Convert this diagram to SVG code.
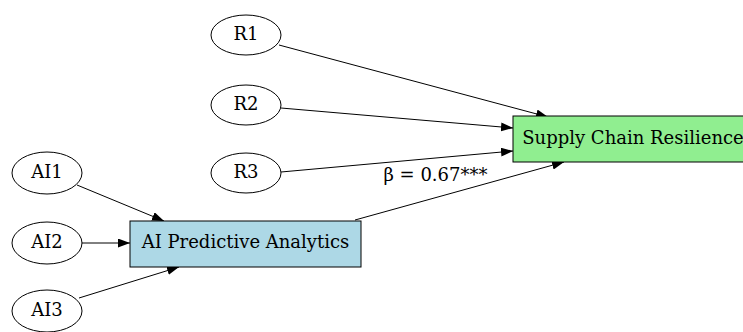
<svg xmlns="http://www.w3.org/2000/svg" width="743" height="332" viewBox="0 0 743 332">
<style>
.n ellipse{fill:#fff;stroke:#000;stroke-width:1}
.t{font-family:"DejaVu Serif",serif;font-size:18px;fill:#000;text-anchor:middle}
.e line{stroke:#000;stroke-width:1;marker-end:url(#ah)}
</style>
<defs>
<marker id="ah" markerWidth="12" markerHeight="9" refX="12" refY="4.5" orient="auto" markerUnits="userSpaceOnUse">
<path d="M0,0 L12,4.5 L0,9 z" fill="#000"/>
</marker>
</defs>
<rect width="743" height="332" fill="#fff"/>
<g id="edges" class="e">
<line x1="279" y1="45" x2="548" y2="117"/>
<line x1="281" y1="108" x2="513" y2="128"/>
<line x1="281" y1="172" x2="513" y2="151"/>
<line x1="355" y1="220" x2="564" y2="162"/>
<line x1="77" y1="185" x2="164" y2="221"/>
<line x1="81" y1="243" x2="130" y2="243"/>
<line x1="79" y1="298" x2="179" y2="267"/>
<text class="t" x="435.5" y="181">β = 0.67***</text>
</g>
<g id="R1" class="n"><ellipse cx="246" cy="35" rx="35" ry="20"/><text class="t" x="246" y="40">R1</text></g>
<g id="R2" class="n"><ellipse cx="246" cy="105" rx="35" ry="20"/><text class="t" x="246" y="110">R2</text></g>
<g id="R3" class="n"><ellipse cx="246" cy="173" rx="35" ry="20"/><text class="t" x="246" y="178">R3</text></g>
<g id="AI1" class="n"><ellipse cx="47" cy="173" rx="35" ry="21"/><text class="t" x="47" y="178">AI1</text></g>
<g id="AI2" class="n"><ellipse cx="47" cy="243" rx="35" ry="21"/><text class="t" x="47" y="248">AI2</text></g>
<g id="AI3" class="n"><ellipse cx="47" cy="311" rx="35" ry="21"/><text class="t" x="47" y="316">AI3</text></g>
<g id="AIPA"><rect x="130" y="221" width="231" height="46" fill="#ADD8E6" stroke="#000"/><text class="t" x="245.5" y="248">AI Predictive Analytics</text></g>
<g id="SCR"><rect x="513" y="116" width="240" height="46" fill="#90EE90" stroke="#000"/><text class="t" x="633" y="144">Supply Chain Resilience</text></g>
</svg>
